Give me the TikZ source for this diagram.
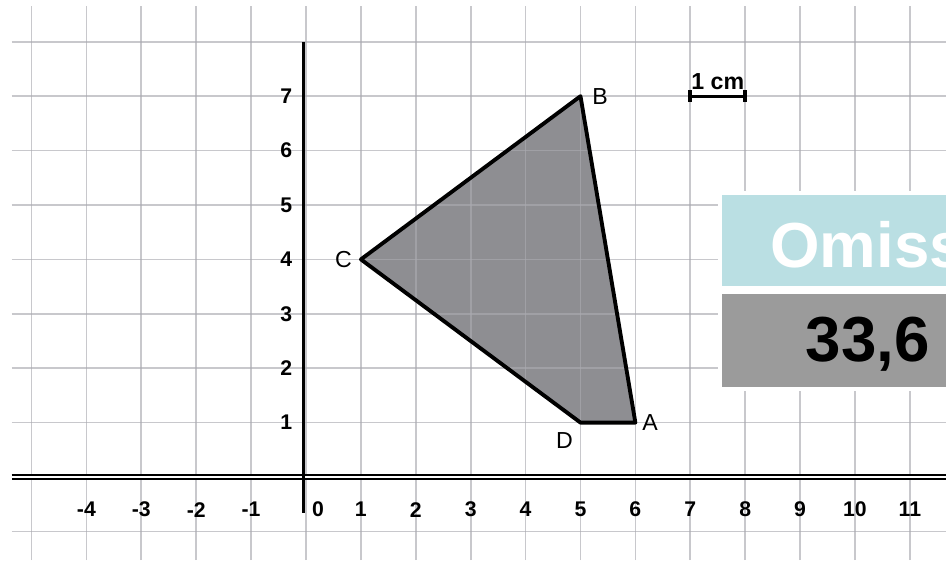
\documentclass[tikz,border=0pt]{standalone}
\usepackage{fontspec}
\setmainfont{Liberation Sans}
\usetikzlibrary{positioning}
\definecolor{gridgray}{RGB}{170,170,176}
\definecolor{shapegray}{RGB}{142,142,146}
\definecolor{boxteal}{RGB}{186,223,227}
\definecolor{boxgray}{RGB}{155,155,155}
\newcommand{\papergrid}[4]{\foreach \x in {#1,...,#2} {
        \draw[gridline] (\x, -1.53) -- (\x, 8.66);
    }
    \foreach \y in {#3,...,#4} {
        \draw[gridline] (-5.36, \y) -- (11.66, \y);
    }
}
\tikzset{
    gridline/.style={gridgray, opacity=0.65, line width=0.9pt},
    ticklabel/.style={font=\fontsize{11}{13}\selectfont\bfseries, inner sep=0pt},
    vertexlabel/.style={font=\fontsize{12}{14}\selectfont, inner sep=0pt},
}

\begin{document}
\begin{tikzpicture}[x=1cm, y=0.991cm]
    \useasboundingbox (-5.574, -1.526) rectangle (11.658, 8.768);

    % Draw quadrilateral
    \coordinate (A) at (6, 1);
    \coordinate (B) at (5, 7);
    \coordinate (C) at (1, 4);
    \coordinate (D) at (5, 1);
    \fill[shapegray] (A) -- (B) -- (C) -- (D) -- cycle;

    % Draw grid
    \papergrid{-5}{11}{-1}{8}

    \draw[line width=2pt, line join=round] (A) -- (B) -- (C) -- (D) -- cycle;

    % Draw axes
    \coordinate (xstart) at (-5.36, 0);
    \coordinate (xend) at (11.66, 0);
    \coordinate (ytop) at (-0.05, 8);
    \coordinate (ybottom) at (-0.05, -0.66);
    \draw[line width=1.1pt, double, double distance=1.3pt] (xstart) -- (xend);
    \draw[line width=1.6pt] (ybottom) -- (ytop);

    \foreach \x in {-4,...,-1,1,2,...,11} {
        \node[ticklabel] (xtick\x) at (\x, -0.6) {\x};
    }
    \node[ticklabel] (xtick0) at (0.22, -0.6) {0};
    \foreach \y in {1,...,7} {
        \node[ticklabel] (ytick\y) at (-0.36, \y) {\y};
    }

    % Draw vertex names
    \node[vertexlabel, right=0.21cm of B] (nameB) {B};
    \node[vertexlabel, left=0.16cm of C] (nameC) {C};
    \node[vertexlabel, below left=0.18cm and 0.13cm of D] (nameD) {D};
    \node[vertexlabel, right=0.12cm of A] (nameA) {A};

    % Draw scale bar
    \coordinate (bar1) at (7, 7);
    \coordinate (bar2) at (8, 7);
    \draw[line width=1.5pt] (bar1) -- (bar2) node[midway, above=0.1cm, font=\fontsize{12}{14}\selectfont\bfseries, inner sep=0pt] (barname) {1 cm};
    \draw[line width=2pt] ([yshift=-0.11cm]bar1) -- ([yshift=0.11cm]bar1);
    \draw[line width=2pt] ([yshift=-0.11cm]bar2) -- ([yshift=0.11cm]bar2);

    % Draw result boxes
    \fill[white] (7.505, 1.581) rectangle (11.7, 5.257);
    \fill[boxteal] (7.577, 3.511) rectangle (11.7, 5.184);
    \fill[boxgray] (7.577, 1.654) rectangle (11.7, 3.364);
    \node[anchor=base west, inner sep=0pt, white, font=\fontsize{33}{38}\selectfont\bfseries] (headtext) at (8.45, 3.86) {Omiss};
    \node[anchor=base west, inner sep=0pt, font=\fontsize{33}{38}\selectfont\bfseries] (valuetext) at (9.10, 2.114) {33,6};
\end{tikzpicture}
\end{document}
